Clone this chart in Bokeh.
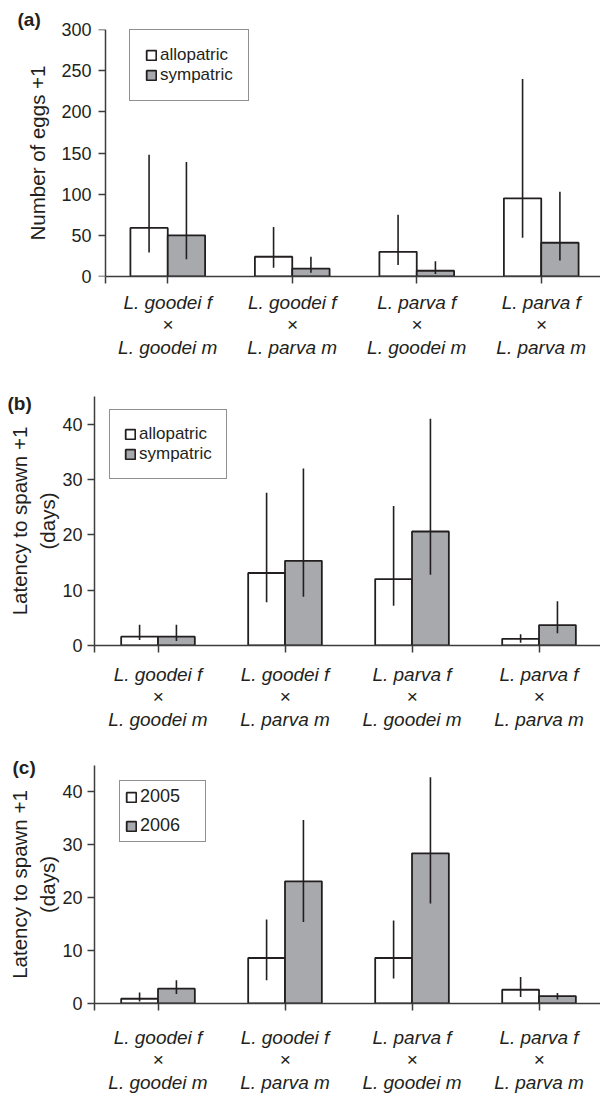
from bokeh.plotting import figure
from bokeh.models import (ColumnDataSource, FixedTicker, Legend, LegendItem, Title,
                          Range1d, LinearAxis)
from bokeh.layouts import column
from bokeh.embed import file_html
from bokeh.resources import INLINE

# ---------------- data ----------------
crosses = ["L. goodei f\n×\nL. goodei m", "L. goodei f\n×\nL. parva m",
           "L. parva f\n×\nL. goodei m", "L. parva f\n×\nL. parva m"]

# (a) number of eggs + 1
a_allo = [59, 24, 30, 95]
a_allo_lo = [29, 10.5, 14, 47]
a_allo_hi = [148, 60, 75, 240]
a_symp = [50, 9.5, 7, 41]
a_symp_lo = [21, 4.5, 3, 19.5]
a_symp_hi = [139, 24, 18.5, 103]

# (b) latency to spawn + 1 (days), allopatric vs sympatric
b_allo = [1.6, 13.1, 12.0, 1.2]
b_allo_lo = [1.0, 7.8, 7.2, 0.5]
b_allo_hi = [3.75, 27.6, 25.2, 2.05]
b_symp = [1.6, 15.3, 20.6, 3.7]
b_symp_lo = [0.8, 8.8, 12.8, 2.2]
b_symp_hi = [3.75, 32.0, 41.0, 8.0]

# (c) latency to spawn + 1 (days), 2005 vs 2006
c_2005 = [0.9, 8.6, 8.6, 2.6]
c_2005_lo = [0.4, 4.4, 4.75, 1.25]
c_2005_hi = [2.1, 15.9, 15.7, 5.0]
c_2006 = [2.8, 23.1, 28.4, 1.4]
c_2006_lo = [1.8, 15.4, 18.9, 0.75]
c_2006_hi = [4.4, 34.7, 42.8, 2.0]

a_ticks = [0, 50, 100, 150, 200, 250, 300]
bc_ticks = [0, 10, 20, 30, 40]

# ---------------- style ----------------
INK = "#231f20"
GREY = "#a7a9ac"
AXIS = "#3c3c3c"
FONT = "Liberation Sans"
TITLE_SIZE = "20.5px"
LEFT = 94          # common left border (frames of a column are aligned)


def style_title(ax, text, standoff):
    ax.axis_label = text
    ax.axis_label_text_font = FONT
    ax.axis_label_text_font_size = TITLE_SIZE
    ax.axis_label_text_font_style = "normal"
    ax.axis_label_text_color = INK
    ax.axis_label_standoff = standoff


def bare_axis(ticks):
    return LinearAxis(ticker=FixedTicker(ticks=ticks), axis_line_color=None,
                      major_tick_line_color=None, minor_tick_line_color=None,
                      major_tick_out=0, major_tick_in=0)


def panel(s1, s2, y_end, y_ticks, y_titles, height, b_top, b_bottom,
          x_start, x_end, bar_w, tick_standoff, cat_standoff, title_standoffs):
    p = figure(width=600, height=height, x_range=Range1d(x_start, x_end),
               y_range=Range1d(0, y_end), output_backend="svg",
               toolbar_location=None, min_border_left=LEFT,
               min_border_right=0, min_border_top=b_top,
               min_border_bottom=b_bottom)
    p.outline_line_color = None
    p.grid.visible = False

    idx = list(range(len(s1[0])))
    renderers = []
    for k, (vals, lo, hi, fill) in enumerate([(s1[0], s1[1], s1[2], "white"),
                                              (s2[0], s2[1], s2[2], GREY)]):
        sign = -1 if k == 0 else 1
        xs = [i + 0.5 + sign * bar_w / 2 for i in idx]
        src = ColumnDataSource(dict(x=xs, top=vals, lo=lo, hi=hi))
        r = p.vbar(x="x", top="top", bottom=0, width=bar_w, source=src,
                   fill_color=fill, line_color=INK, line_width=1.8)
        p.segment(x0="x", y0="lo", x1="x", y1="hi", source=src,
                  line_color=INK, line_width=1.6)
        renderers.append(r)

    xa = p.xaxis[0]
    xa.ticker = FixedTicker(ticks=[0] + [i + 0.5 for i in idx])
    overrides = {0: ""}
    for i in idx:
        overrides[i + 0.5] = crosses[i]
    xa.major_label_overrides = overrides
    xa.major_label_text_font = FONT
    xa.major_label_text_font_size = "19px"
    xa.major_label_text_font_style = "italic"
    xa.major_label_text_color = INK
    xa.major_label_text_line_height = 1.08
    xa.major_label_standoff = cat_standoff

    ya = p.yaxis[0]
    ya.ticker = FixedTicker(ticks=y_ticks)
    ya.minor_tick_line_color = None

    for ax in (xa, ya):
        ax.axis_line_color = AXIS
        ax.axis_line_width = 1.5
        ax.major_tick_line_color = AXIS
        ax.major_tick_line_width = 1.5
        ax.major_tick_out = 7
        ax.major_tick_in = 0
        ax.minor_tick_line_color = None

    if x_start < 0:
        # y axis line stands at category position 0, a little inside the frame;
        # its numbers and title come from a bare axis at the frame edge
        ya.fixed_location = 0
        ya.major_label_overrides = {t: "" for t in y_ticks}
        ya.major_label_standoff = 0
        xa.bounds = (0, x_end)
        lab = bare_axis(y_ticks)
        lab_axes = [lab]
        p.left = [lab, ya]
    else:
        lab = ya
        lab_axes = []
    lab.major_label_text_font = FONT
    lab.major_label_text_font_size = "18px"
    lab.major_label_text_color = INK
    lab.major_label_standoff = tick_standoff

    # y-axis title: one line per axis so that each line sits exactly
    title_axes = [lab]
    for n in range(1, len(y_titles)):
        ax = bare_axis([])
        ax.major_label_standoff = 0
        p.add_layout(ax, "left")
        title_axes.append(ax)
    for ax, text, so in zip(title_axes, y_titles, title_standoffs):
        if text:
            style_title(ax, text, so)
    return p, renderers


def add_legend(p, renderers, names, loc, pad, spacing, font_size, label_width=20):
    legend = Legend(items=[LegendItem(label=names[0], renderers=[renderers[0]]),
                           LegendItem(label=names[1], renderers=[renderers[1]])],
                    location=loc)
    legend.border_line_color = INK
    legend.border_line_width = 1.5
    legend.background_fill_color = "white"
    legend.background_fill_alpha = 1
    legend.label_text_font = FONT
    legend.label_text_font_size = font_size
    legend.label_text_color = INK
    legend.glyph_width = 12
    legend.glyph_height = 12
    legend.label_standoff = 3
    legend.padding = pad
    legend.spacing = spacing
    legend.label_height = 12
    legend.label_width = label_width
    legend.margin = 0
    p.add_layout(legend)


def add_tag(p, text, offset, standoff):
    t = Title(text=text, align="left", offset=offset, vertical_align="bottom",
              text_font=FONT, text_font_style="bold", text_font_size="19px",
              text_color=INK)
    try:
        t.standoff = standoff
    except ValueError:
        t.standoff = 0
    p.add_layout(t, "above")


pa, ra = panel((a_allo, a_allo_lo, a_allo_hi), (a_symp, a_symp_lo, a_symp_hi),
               300, a_ticks, ["Number of eggs +1"],
               388, 29, 112, -0.0884, 3.976, 0.30, 3, 8, [9])
add_legend(pa, ra, ["allopatric", "sympatric"], (35, 175), 15, -3, "17px")
add_tag(pa, "(a)", -77, 0)

pb, rb = panel((b_allo, b_allo_lo, b_allo_hi), (b_symp, b_symp_lo, b_symp_hi),
               45, bc_ticks, ["", "(days)", "Latency to spawn +1"],
               367, 8, 110, 0, 3.984, 0.29, 5, 11, [0, 1, 2])
add_legend(pb, rb, ["allopatric", "sympatric"], (15, 166), 14, -1, "17px")
add_tag(pb, "(b)", -87, -34)

pc, rc = panel((c_2005, c_2005_lo, c_2005_hi), (c_2006, c_2006_lo, c_2006_hi),
               45, bc_ticks, ["", "(days)", "Latency to spawn +1"],
               340, 10, 89, 0, 3.984, 0.29, 5, 16, [0, 1, 2])
add_legend(pc, rc, ["2005", "2006"], (25, 161), 5, 8, "18px", label_width=60)
add_tag(pc, "(c)", -82, -24)

layout = column(pa, pb, pc, spacing=0)
open("out.html", "w").write(file_html(layout, INLINE))
